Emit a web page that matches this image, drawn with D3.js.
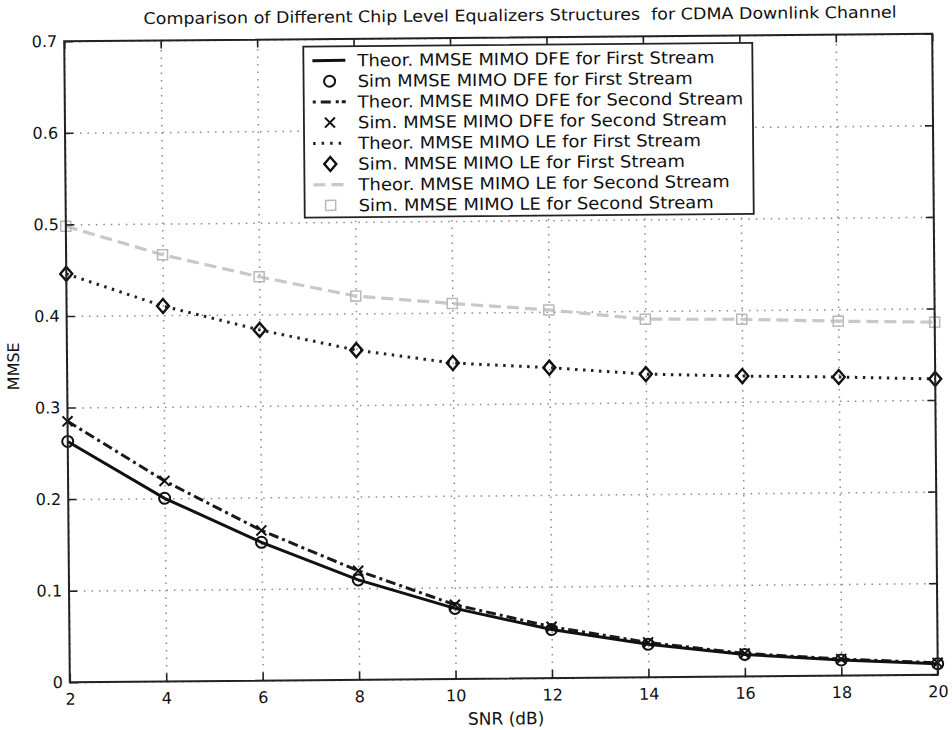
<!DOCTYPE html>
<html>
<head>
<meta charset="utf-8">
<script src="https://cdn.jsdelivr.net/npm/d3@7"></script>
<style>
  body { margin: 0; background: #fff; }
  text { font-family: "DejaVu Sans", sans-serif; fill: #111; }
</style>
</head>
<body>
<div id="chart"></div>
<script>
// values
const snr = [2, 4, 6, 8, 10, 12, 14, 16, 18, 20];
const dfeFirst  = [0.263, 0.200, 0.151, 0.109, 0.077, 0.053, 0.036, 0.024, 0.017, 0.012];
const dfeSecond = [0.285, 0.219, 0.164, 0.119, 0.081, 0.056, 0.038, 0.025, 0.018, 0.013];
const leFirst   = [0.446, 0.410, 0.383, 0.360, 0.345, 0.339, 0.331, 0.328, 0.326, 0.323];
const leSecond  = [0.498, 0.466, 0.441, 0.419, 0.410, 0.402, 0.391, 0.390, 0.387, 0.385];

const xTicks = [2, 4, 6, 8, 10, 12, 14, 16, 18, 20];
const yTicks = [0, 0.1, 0.2, 0.3, 0.4, 0.5, 0.6, 0.7];

const legendLabels = [
  'Theor. MMSE MIMO DFE for First Stream',
  'Sim MMSE MIMO DFE for First Stream',
  'Theor. MMSE MIMO DFE for Second Stream',
  'Sim. MMSE MIMO DFE for Second Stream',
  'Theor. MMSE MIMO LE for First Stream',
  'Sim. MMSE MIMO LE for First Stream',
  'Theor. MMSE MIMO LE for Second Stream',
  'Sim. MMSE MIMO LE for Second Stream'
];

const W = 952, H = 730;
const margin = { top: 37.5, right: 17, bottom: 51.5, left: 67 };
const w = W - margin.left - margin.right;
const h = H - margin.top - margin.bottom;

const svg = d3.select('#chart').append('svg')
  .attr('width', W)
  .attr('height', H);

// the scan is tilted a little
const root = svg.append('g').attr('transform', 'rotate(-0.5,501,358)');

root.append('text')
  .attr('x', 523)
  .attr('y', 21)
  .attr('text-anchor', 'middle')
  .attr('font-size', '16px')
  .attr('textLength', 753)
  .attr('lengthAdjust', 'spacingAndGlyphs')
  .style('white-space', 'pre')
  .text('Comparison of Different Chip Level Equalizers Structures  for CDMA Downlink Channel');

const g = root.append('g').attr('transform', `translate(${margin.left},${margin.top})`);

const x = d3.scaleLinear().domain([2, 20]).range([0, w]);
const y = d3.scaleLinear().domain([0, 0.7]).range([h, 0]);

// grid
const gridStyle = sel => sel.selectAll('line')
  .attr('stroke', '#8a8a8a')
  .attr('stroke-width', 1.5)
  .attr('stroke-dasharray', '1.5,6');

g.append('g')
  .attr('transform', `translate(0,${h})`)
  .call(d3.axisBottom(x).tickValues(xTicks).tickSize(-h).tickFormat(''))
  .call(a => a.select('.domain').remove())
  .call(gridStyle);

g.append('g')
  .call(d3.axisLeft(y).tickValues(yTicks).tickSize(-w).tickFormat(''))
  .call(a => a.select('.domain').remove())
  .call(gridStyle);

// series
const pts = vals => snr.map((s, i) => [s, vals[i]]);
const line = d3.line().x(d => x(d[0])).y(d => y(d[1]));

g.append('path').datum(pts(leSecond))
  .attr('fill', 'none').attr('stroke', '#c8c8c8').attr('stroke-width', 3.2)
  .attr('stroke-dasharray', '12,6')
  .attr('d', line);

g.append('path').datum(pts(leFirst))
  .attr('fill', 'none').attr('stroke', '#222').attr('stroke-width', 3)
  .attr('stroke-dasharray', '2.5,5.5')
  .attr('d', line);

g.append('path').datum(pts(dfeSecond))
  .attr('fill', 'none').attr('stroke', '#1a1a1a').attr('stroke-width', 3)
  .attr('stroke-dasharray', '10,4,3,4')
  .attr('d', line);

g.append('path').datum(pts(dfeFirst))
  .attr('fill', 'none').attr('stroke', '#111').attr('stroke-width', 3)
  .attr('d', line);

// markers
const drawSquare = (sel, color) => sel.append('rect')
  .attr('x', -5).attr('y', -5).attr('width', 10).attr('height', 10)
  .attr('fill', 'none').attr('stroke', color).attr('stroke-width', 1.5);
const drawDiamond = sel => sel.append('path')
  .attr('d', 'M0,-7L6,0L0,7L-6,0Z')
  .attr('fill', 'none').attr('stroke', '#111').attr('stroke-width', 2.4);
const drawCross = sel => sel.append('path')
  .attr('d', 'M-5,-5L5,5M-5,5L5,-5')
  .attr('fill', 'none').attr('stroke', '#111').attr('stroke-width', 2);
const drawCircle = sel => sel.append('circle')
  .attr('r', 5.5)
  .attr('fill', 'none').attr('stroke', '#111').attr('stroke-width', 2);

const markers = (vals, draw) => g.append('g').selectAll('g')
  .data(pts(vals)).enter().append('g')
  .attr('transform', d => `translate(${x(d[0])},${y(d[1])})`)
  .call(draw);

markers(leSecond, s => drawSquare(s, '#b8b8b8'));
markers(leFirst, drawDiamond);
markers(dfeSecond, drawCross);
markers(dfeFirst, drawCircle);

// frame and ticks
g.append('rect')
  .attr('width', w).attr('height', h)
  .attr('fill', 'none').attr('stroke', '#222').attr('stroke-width', 2);

const tickStyle = sel => sel.selectAll('line').attr('stroke', '#222').attr('stroke-width', 1.6);

g.append('g')
  .attr('transform', `translate(0,${h})`)
  .call(d3.axisBottom(x).tickValues(xTicks).tickSize(-8).tickPadding(11))
  .call(a => a.select('.domain').remove())
  .call(tickStyle)
  .call(a => a.selectAll('text').attr('font-size', '16px').attr('font-family', '"DejaVu Sans", sans-serif'));

g.append('g')
  .call(d3.axisTop(x).tickValues(xTicks).tickSize(-8).tickFormat(''))
  .call(a => a.select('.domain').remove())
  .call(tickStyle);

g.append('g')
  .call(d3.axisLeft(y).tickValues(yTicks).tickSize(-8).tickPadding(7)
    .tickFormat(d => d === 0 ? '0' : d.toFixed(1)))
  .call(a => a.select('.domain').remove())
  .call(tickStyle)
  .call(a => a.selectAll('text').attr('font-size', '16px').attr('font-family', '"DejaVu Sans", sans-serif'));

g.append('g')
  .attr('transform', `translate(${w},0)`)
  .call(d3.axisRight(y).tickValues(yTicks).tickSize(-8).tickFormat(''))
  .call(a => a.select('.domain').remove())
  .call(tickStyle);

// axis labels
g.append('text')
  .attr('x', x(11) + 2)
  .attr('y', h + 46)
  .attr('text-anchor', 'middle')
  .attr('font-size', '17px')
  .text('SNR (dB)');

g.append('text')
  .attr('transform', `translate(${-48},${h / 2 + 4}) rotate(-90)`)
  .attr('text-anchor', 'middle')
  .attr('font-size', '16px')
  .text('MMSE');

// legend
const leg = g.append('g').attr('transform', `translate(${306 - margin.left},${45 - margin.top})`);
leg.append('rect')
  .attr('width', 449).attr('height', 171)
  .attr('fill', '#fff').attr('stroke', '#222').attr('stroke-width', 1.8);

const rowY = i => 14 + i * 20.7;
const sx1 = 9, sx2 = 42, mx = 26;

const sample = (i, color, width, dash) => leg.append('line')
  .attr('x1', sx1).attr('x2', sx2).attr('y1', rowY(i)).attr('y2', rowY(i))
  .attr('stroke', color).attr('stroke-width', width)
  .attr('stroke-dasharray', dash);

sample(0, '#111', 3, null);
sample(2, '#1a1a1a', 3, '3,5,10,5,3');
sample(4, '#222', 3, '2.5,6');
sample(6, '#c8c8c8', 3.2, '12,6');

leg.append('g').attr('transform', `translate(${mx},${rowY(1)})`).call(drawCircle);
leg.append('g').attr('transform', `translate(${mx},${rowY(3)})`).call(drawCross);
leg.append('g').attr('transform', `translate(${mx},${rowY(5)})`).call(drawDiamond);
leg.append('g').attr('transform', `translate(${mx},${rowY(7)})`).call(s => drawSquare(s, '#b8b8b8'));

leg.append('g')
  .attr('transform', 'translate(54,0) scale(1.07,1)')
  .selectAll('text')
  .data(legendLabels)
  .enter().append('text')
  .attr('x', 0)
  .attr('y', (d, i) => rowY(i) + 6)
  .attr('font-size', '16.8px')
  .text(d => d);
</script>
</body>
</html>
